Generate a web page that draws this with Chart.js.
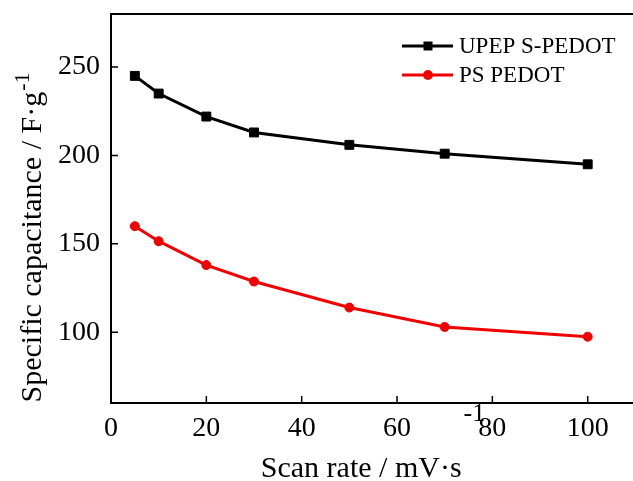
<!DOCTYPE html>
<html>
<head>
<meta charset="utf-8">
<script src="https://cdn.jsdelivr.net/npm/chart.js@4/dist/chart.umd.min.js"></script>
<style>
  html, body { margin: 0; padding: 0; background: #fff; overflow: hidden; }
</style>
</head>
<body>
<canvas id="myChart" width="633" height="481"></canvas>
<script>
// scan rates (mV/s)
const scanRate = [5, 10, 20, 30, 50, 70, 100];
// specific capacitance (F/g)
const upepValues = [245, 235, 222, 213, 206, 201, 195];
const psValues = [160, 151.5, 138, 128.7, 114, 103, 97.5];
const seriesNames = ["UPEP S-PEDOT", "PS PEDOT"];
const xTicks = [0, 20, 40, 60, 80, 100];
const yTicks = [100, 150, 200, 250];

const FONT = "'Liberation Serif', 'Times New Roman', serif";

function toPoints(xs, ys) {
  return xs.map((x, i) => ({ x: x, y: ys[i] }));
}

// no extra room for labels at the ends of the axes
function noPad(s) {
  s.paddingTop = 0;
  s.paddingBottom = 0;
  s.paddingLeft = 0;
  s.paddingRight = 0;
}

// frame (right side is cut off in the original), inward ticks, axis titles and legend
const decor = {
  id: 'decor',
  afterDatasetsDraw(chart) {
    const ctx = chart.ctx;
    const a = chart.chartArea;
    const xs = chart.scales.x, ys = chart.scales.y;
    ctx.save();
    ctx.strokeStyle = '#000';
    ctx.lineWidth = 2;
    ctx.beginPath();
    ctx.moveTo(chart.width, a.top);
    ctx.lineTo(a.left, a.top);
    ctx.lineTo(a.left, a.bottom);
    ctx.lineTo(chart.width, a.bottom);
    ctx.stroke();

    ctx.lineWidth = 1.5;
    ctx.beginPath();
    xTicks.forEach(v => {
      const px = xs.getPixelForValue(v);
      ctx.moveTo(px, a.bottom);
      ctx.lineTo(px, a.bottom - 7);
    });
    yTicks.forEach(v => {
      const py = ys.getPixelForValue(v);
      ctx.moveTo(a.left, py);
      ctx.lineTo(a.left + 7, py);
    });
    ctx.stroke();

    // x title
    ctx.fillStyle = '#000';
    ctx.textBaseline = 'alphabetic';
    ctx.textAlign = 'left';
    ctx.font = '30px ' + FONT;
    const xt = 'Scan rate / mV\u00b7s';
    const w1 = ctx.measureText(xt).width;
    ctx.font = '26px ' + FONT;
    const w2 = ctx.measureText('-1').width;
    const sx = 372 - (w1 + w2) / 2;
    ctx.font = '30px ' + FONT;
    ctx.fillText(xt, sx, 477);
    ctx.font = '26px ' + FONT;
    ctx.fillText('-1', sx + w1 + 2, 421);

    // y title
    ctx.save();
    ctx.translate(41, 238);
    ctx.rotate(-Math.PI / 2);
    ctx.font = '30px ' + FONT;
    const yt = 'Specific capacitance / F\u00b7g';
    const v1 = ctx.measureText(yt).width;
    ctx.font = '22px ' + FONT;
    const v2 = ctx.measureText('-1').width;
    const sy = -(v1 + v2) / 2;
    ctx.font = '30px ' + FONT;
    ctx.fillText(yt, sy, 0);
    ctx.font = '22px ' + FONT;
    ctx.fillText('-1', sy + v1 + 1, -12);
    ctx.restore();

    // legend
    const rows = [46, 75];
    chart.data.datasets.forEach((ds, i) => {
      const y = rows[i];
      ctx.strokeStyle = ds.borderColor;
      ctx.lineWidth = 3;
      ctx.beginPath();
      ctx.moveTo(402, y);
      ctx.lineTo(453, y);
      ctx.stroke();
      ctx.fillStyle = ds.backgroundColor;
      if (ds.pointStyle === 'rect') {
        ctx.fillRect(423.5, y - 4.5, 9, 9);
      } else {
        ctx.beginPath();
        ctx.arc(428, y, 5, 0, Math.PI * 2);
        ctx.fill();
      }
      ctx.fillStyle = '#000';
      ctx.font = '23px ' + FONT;
      ctx.textBaseline = 'middle';
      ctx.fillText(ds.label, 459, y + 1);
    });
    ctx.restore();
  }
};

const myChart = document.getElementById('myChart');
new Chart(myChart, {
  type: 'line',
  data: {
    datasets: [
      {
        label: seriesNames[0],
        data: toPoints(scanRate, upepValues),
        borderColor: '#000',
        backgroundColor: '#000',
        borderWidth: 3,
        pointStyle: 'rect',
        pointRadius: 6.3,
        pointBorderWidth: 1,
        pointHoverRadius: 6.3
      },
      {
        label: seriesNames[1],
        data: toPoints(scanRate, psValues),
        borderColor: '#f00000',
        backgroundColor: '#f00000',
        borderWidth: 3,
        pointStyle: 'circle',
        pointRadius: 4.5,
        pointBorderWidth: 1,
        pointHoverRadius: 4.5
      }
    ]
  },
  options: {
    responsive: false,
    animation: false,
    layout: { autoPadding: false, padding: { top: 14, right: 0, left: 0, bottom: 0 } },
    plugins: { legend: { display: false }, tooltip: { enabled: false } },
    scales: {
      x: {
        type: 'linear',
        min: 0,
        max: 109.5,
        afterBuildTicks: s => { s.ticks = xTicks.map(v => ({ value: v })); },
        afterFit: s => { s.height = 78; noPad(s); },
        grid: { display: false, drawTicks: false },
        border: { display: false },
        ticks: { color: '#000', padding: 9, font: { family: FONT, size: 28 } }
      },
      y: {
        min: 60,
        max: 280,
        afterBuildTicks: s => { s.ticks = yTicks.map(v => ({ value: v })); },
        afterFit: s => { s.width = 111; noPad(s); },
        grid: { display: false, drawTicks: false },
        border: { display: false },
        ticks: { color: '#000', padding: 11, font: { family: FONT, size: 28 } }
      }
    }
  },
  plugins: [decor]
});
</script>
</body>
</html>
